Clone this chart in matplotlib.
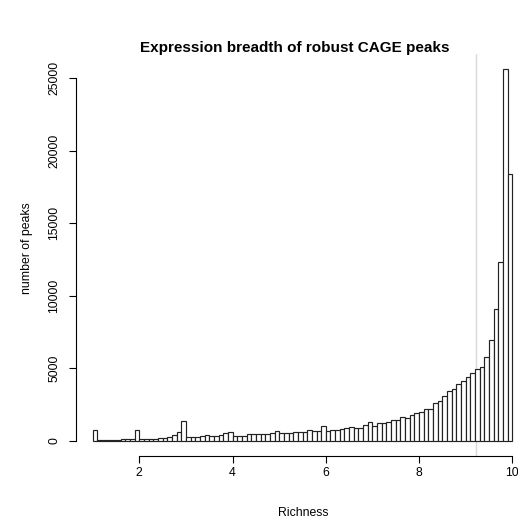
import numpy as np
import matplotlib.pyplot as plt

plt.rcParams['font.family'] = ['Liberation Sans', 'DejaVu Sans']

# histogram of richness, bins of width 0.1 from 1 to 10
bin_start = 1.0
bin_width = 0.1
counts = [
    760, 60, 60, 60, 70, 100, 130, 170, 150, 760,          # 1.0 - 1.9
    120, 130, 130, 150, 220, 210, 300, 420, 590, 1400,     # 2.0 - 2.9
    290, 290, 300, 350, 430, 350, 350, 430, 520, 630,      # 3.0 - 3.9
    350, 350, 350, 500, 470, 470, 470, 480, 560, 700,      # 4.0 - 4.9
    530, 530, 530, 600, 590, 620, 760, 700, 700, 1010,     # 5.0 - 5.9
    690, 760, 780, 830, 900, 940, 920, 920, 1100, 1310,    # 6.0 - 6.9
    1010, 1240, 1220, 1330, 1450, 1430, 1630, 1560, 1790, 1930,   # 7.0 - 7.9
    1975, 2180, 2230, 2640, 2730, 3100, 3470, 3560, 3900, 4110,   # 8.0 - 8.9
    4380, 4660, 4960, 5070, 5810, 6960, 9070, 12350, 25600, 18370,  # 9.0 - 9.9
]
cutoff = 9.23

x_ticks = [2, 4, 6, 8, 10]
y_ticks = [0, 5000, 10000, 15000, 20000, 25000]

edges = bin_start + bin_width * np.arange(len(counts) + 1)

fig = plt.figure(figsize=(5.18, 5.22), dpi=100)
ax = fig.add_axes([0.1465, 0.1266, 0.875, 0.769])

ax.bar(edges[:-1], counts, width=bin_width, align='edge',
       color='white', edgecolor='#222222', linewidth=0.85)
ax.axvline(cutoff, color='#d9d9d9', linewidth=1.0, zorder=0)

# R-like limits (4% padding)
xr = edges[-1] - edges[0]
ax.set_xlim(edges[0] - 0.04 * xr, edges[-1] + 0.04 * xr)
ymax = max(counts)
ax.set_ylim(-0.04 * ymax, 1.04 * ymax)

for s in ['top', 'right']:
    ax.spines[s].set_visible(False)
ax.spines['left'].set_bounds(y_ticks[0], y_ticks[-1])
ax.spines['bottom'].set_bounds(x_ticks[0], x_ticks[-1])
ax.spines['left'].set_linewidth(0.8)
ax.spines['bottom'].set_linewidth(0.8)

ax.set_xticks(x_ticks)
ax.set_xticklabels([str(t) for t in x_ticks])
ax.set_yticks(y_ticks)
ax.set_yticklabels([str(t) for t in y_ticks], rotation=90, va='center')
ax.tick_params(direction='out', length=5, width=0.8, labelsize=8.8)
ax.tick_params(axis='x', pad=3)
ax.tick_params(axis='y', pad=6)

fig.text(295 / 518, 1 - 48 / 522, 'Expression breadth of robust CAGE peaks',
         ha='center', va='center', fontsize=11, fontweight='bold')
fig.text(0.585, 1 - 513 / 522, 'Richness', ha='center', va='center', fontsize=8.8)
fig.text(27 / 518, 1 - 248 / 522, 'number of peaks', ha='center', va='center',
         rotation=90, fontsize=8.8)

fig.savefig('out.png', dpi=100)
